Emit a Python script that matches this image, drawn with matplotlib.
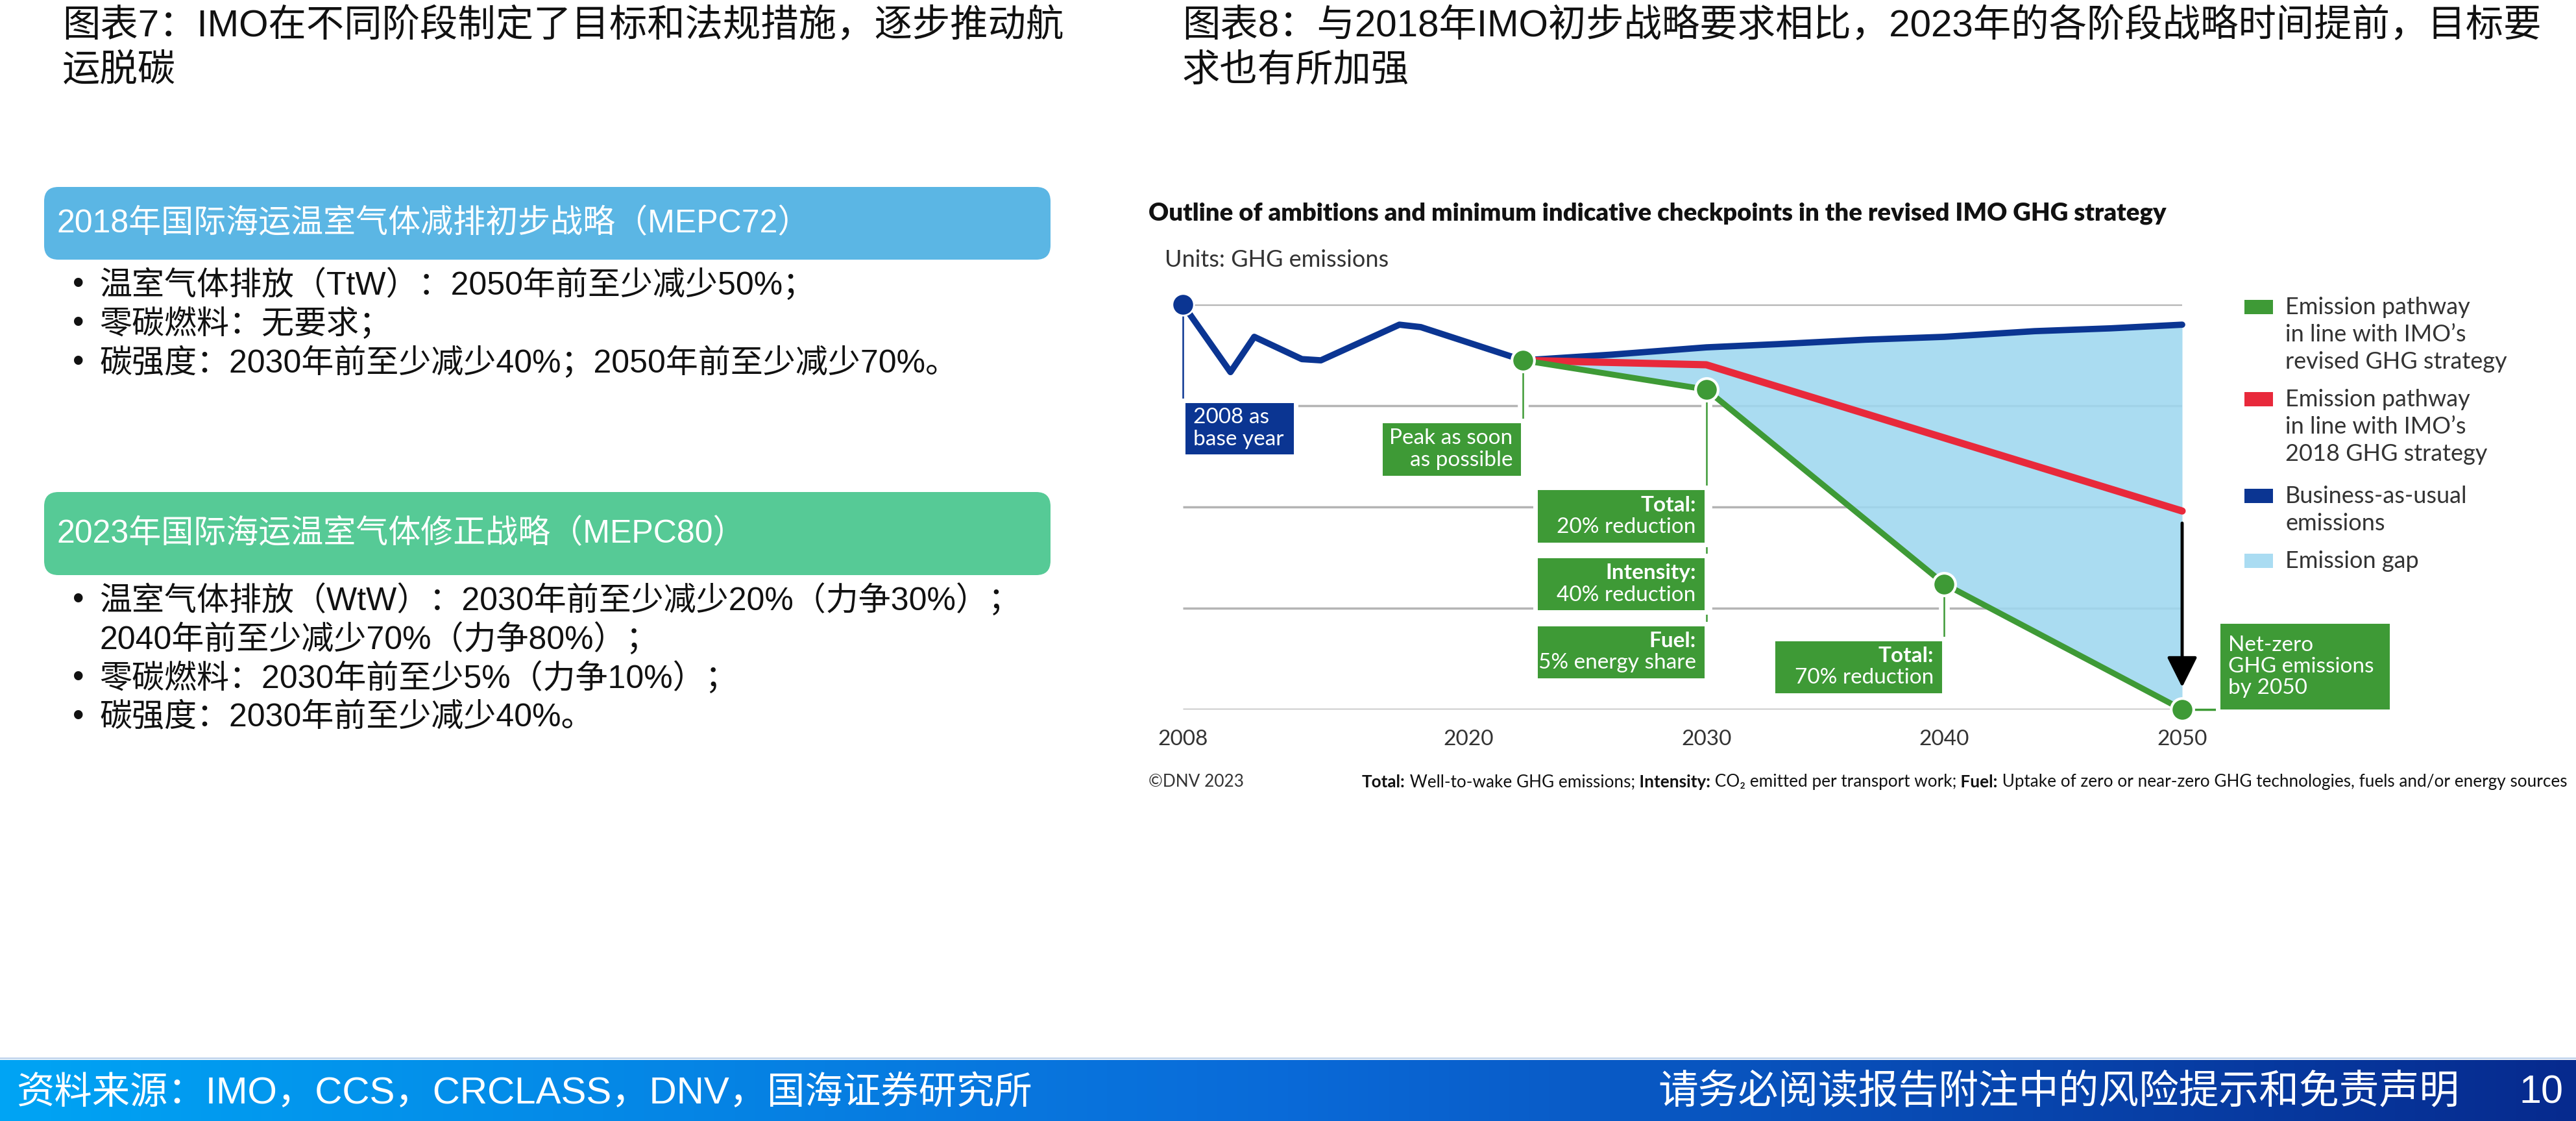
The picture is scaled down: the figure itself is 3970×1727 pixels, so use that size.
import matplotlib
matplotlib.use("Agg")
import matplotlib.pyplot as plt
import matplotlib.patheffects as pe
import numpy as np
from matplotlib.patches import FancyBboxPatch, Rectangle
from matplotlib.colors import LinearSegmentedColormap

W, H = 3970, 1727
CJK = ["Liberation Sans", "Noto Sans CJK SC"]
LAT = ["Lato", "DejaVu Sans"]

NAVY = "#0b3592"
GREEN = "#3e9a36"
RED = "#e8293b"
GAP = "#9fd8f0"
GRID = "#b4b4b4"
TXT = "#333333"

# ---- data (GHG index, 2008 = 100) ----
bau_hist_years = [2008, 2010, 2011, 2013, 2013.8, 2017.1, 2018, 2022.3]
bau_hist = [100, 83.3, 92.0, 86.5, 86.2, 95.0, 94.4, 86.2]
bau_years = [2022.3, 2026, 2030, 2033, 2036.7, 2040, 2043.8, 2047, 2050]
bau = [86.2, 87.6, 89.4, 90.2, 91.3, 92.0, 93.4, 94.1, 95.0]
revised_years = [2022.3, 2030, 2040, 2050]
revised = [86.2, 79.0, 31.0, 0.0]
initial_years = [2022.3, 2030, 2050]
initial = [86.2, 85.1, 49.0]

tick_years = [2008, 2020, 2030, 2040, 2050]
grid_levels = [0, 25, 50, 75, 100]

legend_labels = [
    ["Emission pathway", "in line with IMO’s", "revised GHG strategy"],
    ["Emission pathway", "in line with IMO’s", "2018 GHG strategy"],
    ["Business-as-usual", "emissions"],
    ["Emission gap"],
]
legend_colors = [GREEN, RED, NAVY, "#aadcf2"]

left_title = ["图表7：IMO在不同阶段制定了目标和法规措施，逐步推动航", "运脱碳"]
right_title = ["图表8：与2018年IMO初步战略要求相比，2023年的各阶段战略时间提前，目标要", "求也有所加强"]
box1_title = "2018年国际海运温室气体减排初步战略（MEPC72）"
box1_items = ["温室气体排放（TtW）：2050年前至少减少50%；",
              "零碳燃料：无要求；",
              "碳强度：2030年前至少减少40%；2050年前至少减少70%。"]
box2_title = "2023年国际海运温室气体修正战略（MEPC80）"
box2_items = ["温室气体排放（WtW）：2030年前至少减少20%（力争30%）；",
              "2040年前至少减少70%（力争80%）；",
              "零碳燃料：2030年前至少5%（力争10%）；",
              "碳强度：2030年前至少减少40%。"]
box2_bullets = [True, False, True, True]

fig = plt.figure(figsize=(W / 100, H / 100), dpi=100)
bg = fig.add_axes([0, 0, 1, 1])
bg.axis("off")

# ---- titles ----
for i, s in enumerate(left_title):
    bg.text(96, 40 + i * 70, s, fontsize=42, family=CJK, va="center", color="#111111")
for i, s in enumerate(right_title):
    bg.text(1822, 40 + i * 70, s, fontsize=42, family=CJK, va="center", color="#111111")

# ---- left panel ----
def panel(y0, y1, color, title, items, bullets, ys):
    bg.add_patch(FancyBboxPatch((68, y0), 1551, y1 - y0,
                                boxstyle="round,pad=0,rounding_size=22",
                                facecolor=color, edgecolor="none"))
    bg.text(87, (y0 + y1) / 2, title, fontsize=36, family=CJK, color="white", va="center")
    for s, b, y in zip(items, bullets, ys):
        if b:
            bg.text(112, y, "•", fontsize=36, family=CJK, va="center", color="#111111")
        bg.text(153, y, s, fontsize=36, family=CJK, va="center", color="#111111")

panel(288, 400, "#5bb6e4", box1_title, box1_items, [True] * 3, [439, 499, 559])
panel(758, 886, "#56ca96", box2_title, box2_items, box2_bullets, [925, 985, 1045, 1105])

# ---- right chart texts ----
bg.text(1770, 329, "Outline of ambitions and minimum indicative checkpoints in the revised IMO GHG strategy",
        fontsize=27.5, fontweight="heavy", family=LAT, va="center", color="#111111")
bg.text(1795, 400, "Units: GHG emissions", fontsize=26, family=LAT, va="center", color=TXT)

ax = fig.add_axes([1823 / W, (H - 1093) / H, 1540 / W, 624 / H])
ax.set_xlim(2008, 2050)
ax.set_ylim(0, 100)
ax.patch.set_alpha(0)
for sp in ax.spines.values():
    sp.set_visible(False)
ax.set_yticks([])

PX_X = 1540 / 42
PX_Y = 624 / 100

ax.hlines(grid_levels, 2008, 2050, color=GRID, lw=2.5, zorder=1)
xs = sorted(set(bau_years) | set(revised_years))
ax.fill_between(xs, np.interp(xs, bau_years, bau), np.interp(xs, revised_years, revised),
                color=GAP, alpha=0.88, lw=0, zorder=1.5)
ax.plot(bau_hist_years + bau_years[1:], bau_hist + bau[1:], color=NAVY, lw=7,
        solid_capstyle="round", solid_joinstyle="round", zorder=3, clip_on=False)
ax.plot(initial_years, initial, color=RED, lw=8, solid_capstyle="round", zorder=3.2, clip_on=False)
ax.plot(revised_years, revised, color=GREEN, lw=6.5, zorder=3.4, clip_on=False)

halo = [pe.Stroke(linewidth=12, foreground="white"), pe.Normal()]

def callout(x0, x1, y0, y1, color, lines, align, size=24, step=34):
    ax.add_patch(Rectangle((x0, y0), x1 - x0, y1 - y0, facecolor=color, edgecolor="white",
                           lw=5, zorder=4, clip_on=False))
    yc = (y0 + y1) / 2
    n = len(lines)
    dy = step / PX_Y
    x = x1 - 16 / PX_X if align == "right" else x0 + 16 / PX_X
    for i, (s, w) in enumerate(lines):
        ax.text(x, yc + (n - 1) / 2 * dy - i * dy, s, ha=align, va="center", color="white",
                fontsize=size, fontweight=w, family=LAT, zorder=5, clip_on=False)

# connectors
peak_x, peak_y = revised_years[0], revised[0]
ax.plot([2008, 2008], [bau_hist[0], 62.5], color=NAVY, lw=1.8, zorder=2, path_effects=halo, clip_on=False)
ax.plot([peak_x, peak_x], [peak_y, 57.2], color=GREEN, lw=1.8, zorder=2, path_effects=halo, clip_on=False)
ax.plot([2030, 2030], [revised[1], 7.2], color=GREEN, lw=1.8, zorder=2, path_effects=halo, clip_on=False)
ax.plot([2040, 2040], [revised[2], 3.5], color=GREEN, lw=1.8, zorder=2, path_effects=halo, clip_on=False)
ax.plot([2050, 2051.6], [revised[3], revised[3]], color=GREEN, lw=2.5, zorder=2, clip_on=False)

callout(2008, 2012.75, 62.5, 76.3, NAVY, [("2008 as", "normal"), ("base year", "normal")], "left")
callout(2016.3, peak_x, 57.2, 71.3, GREEN, [("Peak as soon", "normal"), ("as possible", "normal")], "right")
callout(2022.8, 2030, 40.7, 54.8, GREEN, [("Total:", "bold"), ("20% reduction", "normal")], "right")
callout(2022.8, 2030, 24.0, 38.0, GREEN, [("Intensity:", "bold"), ("40% reduction", "normal")], "right")
callout(2022.8, 2030, 7.2, 21.2, GREEN, [("Fuel:", "bold"), ("5% energy share", "normal")], "right")
callout(2032.8, 2040, 3.5, 17.5, GREEN, [("Total:", "bold"), ("70% reduction", "normal")], "right")
callout(2051.5, 2058.8, -0.5, 21.8, GREEN,
        [("Net-zero", "normal"), ("GHG emissions", "normal"), ("by 2050", "normal")], "left", size=24, step=33)

# dots
ax.plot(bau_hist_years[0], bau_hist[0], "o", ms=24, color=NAVY, mec="white", mew=2, zorder=6, clip_on=False)
ax.plot(revised_years, revised, "o", ms=25, color=GREEN, mec="white", mew=3, zorder=6, clip_on=False)

ax.annotate("", xy=(2050, 5.5), xytext=(2050, 46),
            arrowprops=dict(arrowstyle="-|>,head_width=0.45,head_length=0.9", color="black",
                            lw=3.5, mutation_scale=32, shrinkA=0, shrinkB=0), zorder=5)

ax.set_xticks(tick_years)
ax.set_xticklabels([str(y) for y in tick_years], fontsize=24, family=LAT, color=TXT)
ax.tick_params(axis="x", length=0, pad=33)
for lbl in ax.get_xticklabels():
    lbl.set_verticalalignment("center")

# legend
legend_y = [473, 615, 764, 864]
for lines, c, y in zip(legend_labels, legend_colors, legend_y):
    bg.add_patch(Rectangle((3459, y - 11), 44, 22, facecolor=c, edgecolor="none"))
    for i, s in enumerate(lines):
        bg.text(3522, y + i * 42.5, s, fontsize=26, family=LAT, color=TXT, va="center")

# footnote
bg.text(1770, 1205, "©DNV 2023", fontsize=18.8, family=LAT, color=TXT, va="center")
pieces = [("Total:", "bold"), (" Well-to-wake GHG emissions;", "normal"), (" Intensity:", "bold"),
          (" CO₂ emitted per transport work;", "normal"), (" Fuel:", "bold"),
          (" Uptake of zero or near-zero GHG technologies, fuels and/or energy sources", "normal")]
prev = bg.text(2099, 1205, pieces[0][0], fontsize=18.8, fontweight="bold", family=LAT,
               color="#111111", va="center")
for s, w in pieces[1:]:
    prev = bg.annotate(s, xy=(1, 0), xycoords=prev, va="bottom", ha="left", fontsize=18.8,
                       fontweight=w, family=LAT, color="#111111")

# bottom bar
cmap = LinearSegmentedColormap.from_list("bar", ["#00a4f4", "#0a6ad8", "#062a8e"])
bg.imshow(np.linspace(0, 1, 512)[None, :], cmap=cmap, extent=[0, W, 1727, 1633], aspect="auto", zorder=0)
bg.plot([0, W], [1630, 1630], color="#c3d6ee", lw=2)
bg.text(25, 1684, "资料来源：IMO，CCS，CRCLASS，DNV，国海证券研究所", fontsize=42, family=CJK,
        color="white", va="center")
bg.text(3790, 1684, "请务必阅读报告附注中的风险提示和免责声明", fontsize=44.5, family=CJK,
        color="white", va="center", ha="right")
bg.text(3950, 1684, "10", fontsize=44, family=CJK, color="white", va="center", ha="right")

bg.set_xlim(0, W)
bg.set_ylim(H, 0)

fig.savefig("out.png", dpi=100)
